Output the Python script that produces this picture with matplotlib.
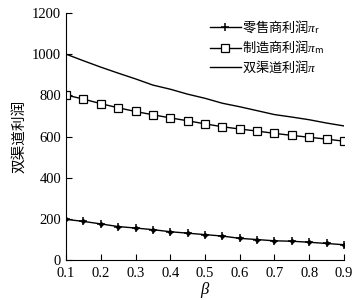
import numpy as np
import matplotlib.pyplot as plt

plt.rcParams['font.family'] = ['Liberation Serif', 'Noto Sans CJK SC']
plt.rcParams['mathtext.fontset'] = 'custom'
plt.rcParams['mathtext.rm'] = 'Noto Sans CJK SC'
plt.rcParams['mathtext.it'] = 'Liberation Serif:italic'
plt.rcParams['mathtext.fallback'] = 'stix'

beta = [0.1, 0.15, 0.2, 0.25, 0.3, 0.35, 0.4, 0.45, 0.5, 0.55,
        0.6, 0.65, 0.7, 0.75, 0.8, 0.85, 0.9]
retailer = [199, 189, 177, 164, 157, 149, 139, 132, 125, 118,
            107, 101, 95, 93, 88, 82, 76]
manufacturer = [802, 782, 760, 740, 722, 706, 691, 677, 662, 648,
                637, 627, 616, 606, 597, 588, 578]
total = [1000, 968, 937, 908, 880, 850, 830, 806, 786, 762,
         745, 726, 707, 695, 682, 666, 652]

fig = plt.figure(figsize=(3.59, 3.0), dpi=100)
ax = fig.add_axes([0.184, 0.132, 0.774, 0.825])

ax.plot(beta, retailer, color='black', lw=1, marker='+', ms=5.5, mew=1.1,
        label=r'零售商利润$\pi_\mathregular{r}$')
ax.plot(beta, retailer, color='black', lw=0, marker='D', ms=2)
ax.plot(beta, manufacturer, color='black', lw=1, marker='s', ms=5.5,
        mfc='white', mew=0.9, label=r'制造商利润$\pi_\mathregular{m}$')
ax.plot(beta, total, color='black', lw=1, label=r'双渠道利润$\pi$')

ax.set_xlim(0.1, 0.9)
ax.set_ylim(0, 1200)
ax.set_xticks(np.arange(0.1, 0.91, 0.1))
ax.set_xticklabels(['0.1', '0.2', '0.3', '0.4', '0.5', '0.6', '0.7', '0.8', '0.9'])
ax.set_yticks(range(0, 1201, 200))
ax.tick_params(direction='in', length=4, labelsize=10.5, width=0.8)
ax.tick_params(axis='x', pad=5)
ax.spines['top'].set_visible(False)
ax.spines['right'].set_visible(False)

ax.set_xlabel(r'$\beta$', fontsize=12, labelpad=0)
ax.set_ylabel('双渠道利润', fontsize=10.5, family=['Noto Sans CJK SC'], labelpad=4)

ax.legend(loc='upper left', bbox_to_anchor=(0.5, 1.0), frameon=False,
          prop={'family': ['Noto Sans CJK SC'], 'size': 9.5},
          handlelength=2.3, handletextpad=0.1, labelspacing=0.2,
          borderaxespad=0)

fig.savefig('out.png', dpi=100)
